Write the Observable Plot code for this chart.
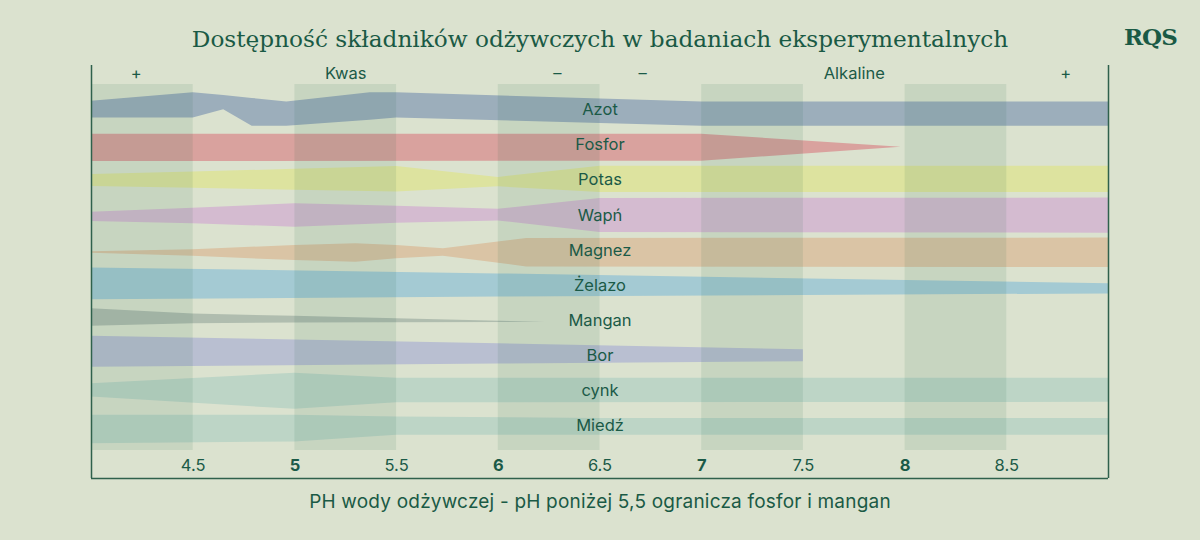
<!DOCTYPE html>
<html>
<head>
<meta charset="utf-8">
<script src="https://cdn.jsdelivr.net/npm/d3@7"></script>
<script src="https://cdn.jsdelivr.net/npm/@observablehq/plot@0.6"></script>
<style>
  html, body { margin: 0; padding: 0; background: #dbe2cf; }
  #wrap { position: relative; width: 1200px; height: 540px; overflow: hidden; }
  #header { position: relative; height: 60px; }
  #title { position: absolute; left: 0; right: 0; top: 24px; text-align: center;
           font-family: "DejaVu Serif", serif; font-size: 23.2px; line-height: 30px; color: #1a5a45; }
  #logo { position: absolute; left: 1124px; top: 22px; font-family: "DejaVu Serif", serif;
          font-weight: bold; font-size: 23px; line-height: 30px; color: #1a5a45; letter-spacing: -1px; }
  #chart svg { display: block; }
  #caption { height: 58px; box-sizing: border-box; padding-top: 8px; text-align: center;
             font-family: Inter, sans-serif; font-size: 19px; line-height: 24px; color: #1a5a45; letter-spacing: 0.2px; }
</style>
</head>
<body>
<div id="wrap">
  <div id="header">
    <div id="title">Dostępność składników odżywczych w badaniach eksperymentalnych</div>
    <div id="logo">RQS</div>
  </div>
  <div id="chart"></div>
  <div id="caption">PH wody odżywczej - pH poniżej 5,5 ogranicza fosfor i mangan</div>
</div>
<script>
// ---- data ----
const nutrients = ["Azot", "Fosfor", "Potas", "Wapń", "Magnez", "Żelazo", "Mangan", "Bor", "cynk", "Miedź"];
const palette   = ["#9caebb", "#d9a29e", "#dde39f", "#d4bbd0", "#dac4a5", "#a4cad3", "#b0bdaf", "#b9bfd1", "#bdd5c6", "#bdd5c6"];

// availability profiles: [pH, upper edge, lower edge] relative to the row midline
const azot   = [[4.0, 2.5, -2.3], [4.5, 4.9, -2.3], [4.65, 4.1, 0.1], [4.79, 3.3, -4.6], [4.96, 2.3, -4.6], [5.37, 4.9, -2.9], [5.5, 4.9, -2.3], [7.0, 2.3, -4.6], [9.0, 2.3, -4.6]];
const fosfor = [[4.0, 3.1, -4.7], [7.0, 3.1, -4.6], [7.98, -0.6, -0.6]];
const potas  = [[4.0, 1.6, -1.8], [4.5, 2.3, -2.3], [5.0, 3.1, -2.9], [5.5, 3.9, -3.4], [6.0, 0.8, -1.9], [6.5, 4.0, -3.5], [9.0, 4.0, -3.5]];
const wapn   = [[4.0, 0.9, -1.8], [4.5, 2.0, -2.4], [5.0, 3.3, -3.4], [5.5, 2.6, -2.3], [6.0, 1.7, -1.6], [6.5, 4.8, -4.9], [9.0, 4.9, -5.1]];
const magnez = [[4.0, -0.4, -0.8], [4.5, 0.2, -1.7], [5.0, 1.4, -2.9], [5.3, 1.9, -3.4], [5.5, 1.4, -2.4], [5.73, 0.5, -1.7], [6.14, 3.4, -4.7], [9.0, 3.5, -4.9]];
const zelazo = [[4.0, 5.0, -4.1], [6.0, 3.3, -3.3], [9.0, 0.5, -2.4]];
const mangan = [[4.0, 3.4, -1.6], [4.5, 1.9, -0.9], [5.0, 1.2, -0.7], [5.5, 0.5, -0.6], [6.23, -0.5, -0.5]];
const bor    = [[4.0, 5.5, -3.3], [6.0, 3.4, -2.4], [7.5, 1.7, -1.7]];
const cynk   = [[4.0, 2.0, -1.8], [5.0, 5.0, -5.3], [5.5, 3.6, -3.4], [9.0, 3.6, -3.3]];
const miedz  = [[4.0, 3.0, -5.1], [5.0, 3.0, -4.6], [5.5, 2.5, -2.7], [6.5, 2.1, -2.7], [9.0, 2.1, -2.7]];
const profiles = [azot, fosfor, potas, wapn, magnez, zelazo, mangan, bor, cynk, miedz];

const tickValues = [4.5, 5, 5.5, 6, 6.5, 7, 7.5, 8, 8.5];
const tickLabels = ["4.5", "5", "5.5", "6", "6.5", "7", "7.5", "8", "8.5"];

const topPh     = [4.22, 5.25, 6.29, 6.71, 7.75, 8.79];
const topLabels = ["+", "Kwas", "–", "–", "Alkaline", "+"];

const bandStart = [4, 5, 6, 7, 8];
const bandEnd   = [4.5, 5.5, 6.5, 7.5, 8.5];

const phMin = 4, phMax = 9;
const labelPh = 6.5;
const ROW = 10;

// ---- build ----
const ink = "#1b5a47";
const fs = 16.5;
const marks = [];

profiles.forEach((prof, i) => {
  const rows = prof.map(([ph, up, lo]) => ({ph, y1: i * ROW - up, y2: i * ROW - lo}));
  marks.push(Plot.areaY(rows, {x: "ph", y1: "y1", y2: "y2", fill: palette[i], curve: "linear"}));
});

marks.push(Plot.rect(bandStart.map((s, k) => ({x1: s, x2: bandEnd[k]})),
  {x1: "x1", x2: "x2", fill: "rgb(30,95,70)", fillOpacity: 0.1, insetTop: 19, insetBottom: 28}));

marks.push(Plot.text(nutrients.map((n, i) => ({n, ph: labelPh, y: i * ROW})),
  {x: "ph", y: "y", text: "n", fill: ink, fontSize: fs, fontFamily: "Inter", textAnchor: "middle"}));

const topData = topPh.map((ph, k) => ({ph, label: topLabels[k]}));
marks.push(Plot.text(topData, {x: "ph", text: "label", frameAnchor: "top", lineAnchor: "middle", dy: 8,
  fill: ink, fontSize: fs, fontFamily: "Inter"}));

const tickData = tickValues.map((v, k) => ({v, label: tickLabels[k], major: Number.isInteger(v)}));
marks.push(Plot.text(tickData.filter(d => !d.major), {x: "v", text: "label", frameAnchor: "bottom", lineAnchor: "middle", dy: -13,
  fill: ink, fontSize: fs, fontFamily: "Inter"}));
marks.push(Plot.text(tickData.filter(d => d.major), {x: "v", text: "label", frameAnchor: "bottom", lineAnchor: "middle", dy: -13,
  fill: ink, fontSize: fs, fontFamily: "Inter", fontWeight: 700}));

marks.push(Plot.ruleX([phMin, phMax], {stroke: "#2f614c", strokeWidth: 1.5}));
marks.push(Plot.ruleY([105], {stroke: "#2f614c", strokeWidth: 1.5}));

const chart = Plot.plot({
  width: 1200,
  height: 422,
  marginLeft: 91,
  marginRight: 92,
  marginTop: 5,
  marginBottom: 4,
  x: {domain: [phMin, phMax], axis: null},
  y: {domain: [-12.68, 105], range: [5, 418], axis: null},
  style: {background: "transparent", fontFamily: "Inter", color: ink, overflow: "visible"},
  marks
});
document.getElementById("chart").appendChild(chart);
</script>
</body>
</html>
